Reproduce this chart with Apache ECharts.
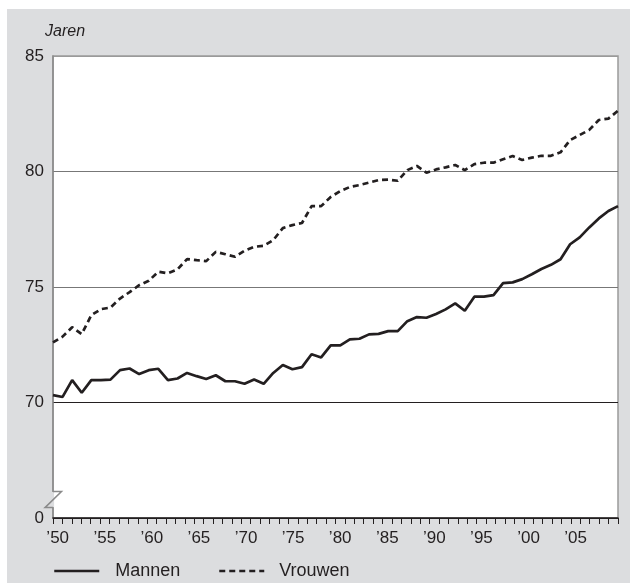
<!DOCTYPE html>
<html>
<head>
<meta charset="utf-8">
<script src="https://cdn.jsdelivr.net/npm/echarts@6/dist/echarts.min.js"></script>
<style>html,body{margin:0;padding:0;background:#fff}#c{width:630px;height:583px}</style>
</head>
<body>
<div id="c"></div>
<script>
const years = [];
for (let y = 1950; y <= 2009; y++) years.push(String(y));
const mannen = [70.32,70.24,70.97,70.42,70.97,70.97,70.99,71.40,71.47,71.23,
  71.40,71.46,70.97,71.04,71.28,71.14,71.02,71.18,70.92,70.92,
  70.81,71.00,70.81,71.28,71.62,71.44,71.53,72.09,71.95,72.47,
  72.47,72.73,72.76,72.95,72.97,73.09,73.09,73.52,73.70,73.67,
  73.83,74.03,74.29,73.97,74.58,74.58,74.65,75.17,75.20,75.34,
  75.55,75.78,75.96,76.20,76.85,77.15,77.58,77.97,78.29,78.50];
const vrouwen = [72.60,72.85,73.26,72.96,73.78,74.04,74.11,74.50,74.78,75.08,
  75.27,75.66,75.59,75.76,76.21,76.16,76.12,76.52,76.42,76.31,
  76.57,76.74,76.78,77.03,77.55,77.68,77.77,78.50,78.50,78.90,
  79.15,79.33,79.41,79.52,79.63,79.65,79.60,80.06,80.24,79.95,
  80.09,80.18,80.28,80.06,80.32,80.38,80.38,80.53,80.67,80.50,
  80.60,80.68,80.68,80.83,81.36,81.58,81.80,82.23,82.29,82.63];
const yTicks = [65, 70, 75, 80, 85];
const yTickLabels = ['0', '70', '75', '80', '85'];

const FONT = 'Liberation Sans, Arial, Helvetica, sans-serif';
const INK = '#231f20';
const chart = echarts.init(document.getElementById('c'), null, {renderer: 'canvas'});
const baseGraphic = [
  {type: 'rect', z: -10, silent: true, shape: {x: 7, y: 9, width: 623, height: 574}, style: {fill: '#dcdddf'}},
  {type: 'text', left: 45, top: 24, style: {text: 'Jaren', font: 'italic 16px ' + FONT, fill: INK}}
];
const legendCommon = {top: 562, padding: 0, itemWidth: 45, itemHeight: 16,
  itemStyle: {opacity: 0}, lineStyle: {width: 2.5}};
const option = {
  animation: false,
  backgroundColor: '#ffffff',
  textStyle: {fontFamily: FONT},
  graphic: baseGraphic,
  grid: {left: 53, right: 12, top: 56, bottom: 65, show: true, backgroundColor: '#ffffff', borderColor: '#9a9a9a', borderWidth: 1.5},
  legend: [
    Object.assign({data: ['Mannen'], left: 53,
     textStyle: {fontSize: 18, color: INK, fontFamily: FONT, padding: [0, 0, 0, 11]}}, legendCommon),
    Object.assign({data: ['Vrouwen'], left: 218,
     textStyle: {fontSize: 18, color: INK, fontFamily: FONT, padding: [0, 0, 0, 10]}}, legendCommon)
  ],
  xAxis: [
    {type: 'category', data: years, boundaryGap: true,
     axisLine: {lineStyle: {color: INK, width: 1.5}},
     axisTick: {show: true, interval: 0, length: 6, lineStyle: {color: INK, width: 1}},
     axisLabel: {interval: (i) => i % 5 === 0, margin: 12, fontSize: 17, color: INK, fontFamily: FONT,
       formatter: (v) => '\u2019' + v.slice(2)},
     splitLine: {show: false}},
    {type: 'category', data: years, boundaryGap: false, show: false}
  ],
  yAxis: {
    type: 'value', min: 65, max: 85, interval: 5,
    axisLine: {show: true, lineStyle: {color: '#8a8a8a', width: 1.5}},
    axisTick: {show: false},
    axisLabel: {margin: 9, fontSize: 17, color: INK, fontFamily: FONT,
      formatter: (v) => yTickLabels[yTicks.indexOf(v)]},
    splitLine: {show: true, lineStyle: {color: [INK, INK, '#777777', '#777777', '#9a9a9a'], width: 1.2}}
  },
  series: [
    {name: 'Mannen', type: 'line', xAxisIndex: 1, data: mannen, symbol: 'none',
     lineStyle: {color: INK, width: 2.7}, itemStyle: {color: INK}},
    {name: 'Vrouwen', type: 'line', xAxisIndex: 1, data: vrouwen, symbol: 'none',
     lineStyle: {color: INK, width: 2.7, type: [6, 4]}, itemStyle: {color: INK}}
  ]
};
chart.setOption(option);

// axis break symbol on the y axis, positioned through the axis scale
const yTop = chart.convertToPixel({yAxisIndex: 0}, 66.15);
const yBot = chart.convertToPixel({yAxisIndex: 0}, 65.45);
const gx = 53;
chart.setOption({
  graphic: baseGraphic.concat([
    {type: 'rect', z: 100, silent: true, shape: {x: gx - 1.5, y: yTop + 0.5, width: 2.6, height: yBot - yTop - 1}, style: {fill: '#dcdddf'}},
    {type: 'polyline', z: 101, silent: true,
     shape: {points: [[gx, yTop], [gx + 8.5, yTop], [gx - 8, yBot], [gx, yBot]]},
     style: {stroke: '#8a8a8a', lineWidth: 1.5, fill: null}}
  ])
}, {replaceMerge: ['graphic']});
</script>
</body>
</html>
